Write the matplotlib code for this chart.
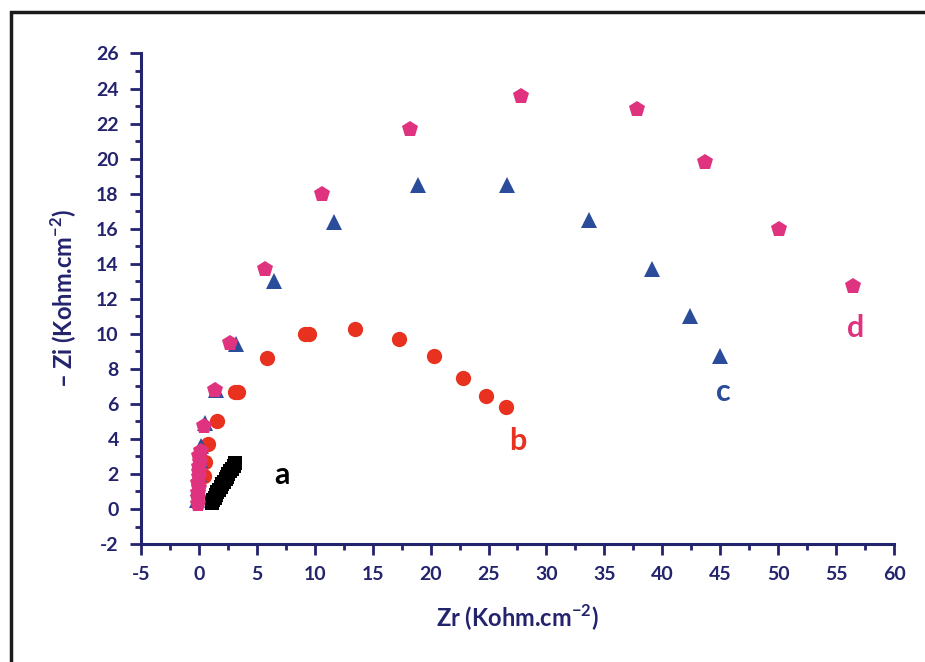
import matplotlib
matplotlib.use('Agg')
import matplotlib.pyplot as plt
from matplotlib.patches import Rectangle
from matplotlib.ticker import MultipleLocator

plt.rcParams['font.family'] = ['Lato', 'DejaVu Sans']
plt.rcParams['axes.unicode_minus'] = False
plt.rcParams['mathtext.fontset'] = 'custom'
plt.rcParams['mathtext.rm'] = 'Lato:bold'
plt.rcParams['mathtext.bf'] = 'Lato:bold'

# curve a (black)
a_zr = [1.1, 1.2, 1.35, 1.5, 1.6, 1.75, 1.9, 2.0, 2.15, 2.3, 2.45, 2.55, 2.7, 2.85, 3.0, 3.1]
a_zi = [0.35, 0.5, 0.65, 0.8, 0.95, 1.1, 1.25, 1.4, 1.55, 1.7, 1.85, 2.0, 2.15, 2.3, 2.45, 2.6]

# curve b (red circles)
b_zr = [0.4, 0.56, 0.82, 1.6, 3.1, 3.4, 5.9, 9.2, 9.5, 13.5, 17.3, 20.3, 22.8, 24.8, 26.5]
b_zi = [1.9, 2.7, 3.7, 5.05, 6.7, 6.7, 8.6, 10.0, 10.0, 10.3, 9.7, 8.75, 7.45, 6.45, 5.8]

# curve c (blue triangles)
c_zr = [-0.2, -0.1, 0.0, 0.1, 0.2, 0.56, 1.5, 3.2, 6.5, 11.7, 18.9, 26.6, 33.7, 39.1, 42.4, 45.0]
c_zi = [0.5, 1.2, 2.0, 2.8, 3.6, 4.9, 6.8, 9.4, 13.0, 16.4, 18.5, 18.5, 16.5, 13.7, 11.0, 8.75]

# curve d (pink pentagons)
d_zr = [-0.1, -0.05, -0.1, 0.0, -0.05, 0.0, 0.05, 0.0, 0.1, 0.05, 0.15, 0.4, 1.35, 2.7,
        5.7, 10.6, 18.2, 27.8, 37.8, 43.7, 50.1, 56.5]
d_zi = [0.3, 0.6, 0.9, 1.2, 1.5, 1.8, 2.1, 2.4, 2.7, 3.0, 3.3, 4.75, 6.8, 9.5,
        13.7, 18.0, 21.7, 23.6, 22.85, 19.8, 16.0, 12.7]

navy = '#23236e'
red = '#e8321f'
blue = '#2a4c9a'
pink = '#e0337f'

fig = plt.figure(figsize=(9.25, 6.62), dpi=100)
ax = fig.add_axes([0.1524, 0.1782, 0.8141, 0.741])

ax.plot(a_zr, a_zi, 's', color='black', markersize=10.5, markeredgewidth=0, zorder=2)
ax.plot(b_zr, b_zi, 'o', color=red, markersize=11, markeredgewidth=0, zorder=3)
ax.plot(c_zr, c_zi, '^', color=blue, markersize=11, markeredgewidth=0, zorder=4)
ax.plot(d_zr, d_zi, 'p', color=pink, markersize=12, markeredgewidth=0, zorder=5)

ax.text(7.2, 1.95, 'a', color='black', fontsize=22, fontweight='bold', ha='center', va='center')
ax.text(27.5, 3.9, 'b', color=red, fontsize=22, fontweight='bold', ha='center', va='center')
ax.text(45.3, 6.65, 'c', color=blue, fontsize=22, fontweight='bold', ha='center', va='center')
ax.text(56.7, 10.35, 'd', color=pink, fontsize=22, fontweight='bold', ha='center', va='center')

ax.set_xlim(-5, 60)
ax.set_ylim(-2, 26)
ax.xaxis.set_major_locator(MultipleLocator(5))
ax.xaxis.set_minor_locator(MultipleLocator(2.5))
ax.yaxis.set_major_locator(MultipleLocator(2))
ax.yaxis.set_minor_locator(MultipleLocator(1))

for s in ['top', 'right']:
    ax.spines[s].set_visible(False)
for s in ['left', 'bottom']:
    ax.spines[s].set_color(navy)
    ax.spines[s].set_linewidth(2.2)

ax.tick_params(which='major', direction='out', length=8, width=2, color=navy,
               labelcolor=navy, labelsize=14, pad=8)
ax.tick_params(which='minor', direction='out', length=4, width=2, color=navy)
for lbl in ax.get_xticklabels() + ax.get_yticklabels():
    lbl.set_fontweight('bold')

ax.set_xlabel(r'Zr (Kohm.cm$^{\mathbf{-2}}$)', color=navy, fontsize=17,
              fontweight='bold', labelpad=14)
ax.set_ylabel(r'– Zi (Kohm.cm$^{\mathbf{-2}}$)', color=navy, fontsize=17,
              fontweight='bold', labelpad=12)

# outer frame (cut off at right and bottom)
fig.add_artist(Rectangle((11 / 925, -0.1), 1.1, 1.1 - 12 / 662, transform=fig.transFigure,
                         fill=False, edgecolor='#1a1a1a', linewidth=2.5))

fig.savefig('out.png', dpi=100)
